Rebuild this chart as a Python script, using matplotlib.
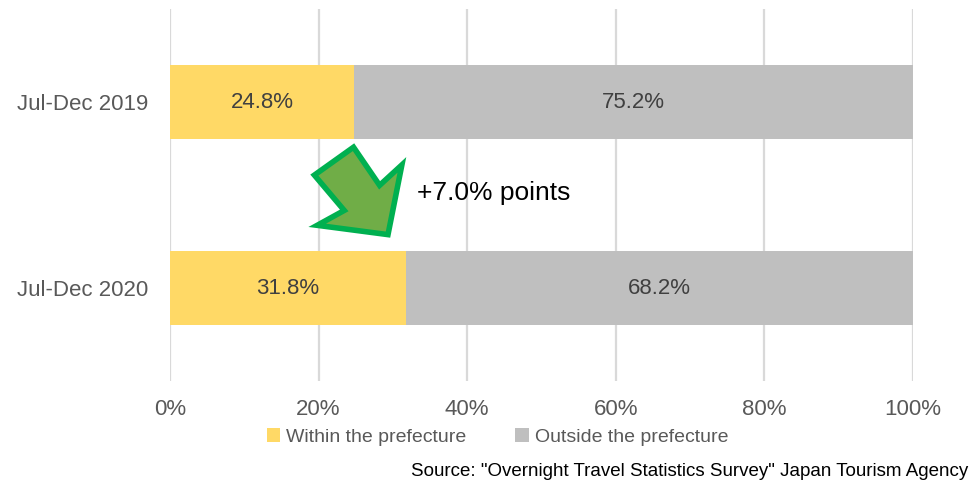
import matplotlib
matplotlib.use("Agg")
import matplotlib.pyplot as plt
from matplotlib.patches import Polygon

plt.rcParams['font.family'] = ['Liberation Sans', 'DejaVu Sans']

categories = ["Jul-Dec 2019", "Jul-Dec 2020"]
within = [24.8, 31.8]
outside = [75.2, 68.2]
series_names = ["Within the prefecture", "Outside the prefecture"]
xticks = [0, 20, 40, 60, 80, 100]
xtick_labels = ["0%", "20%", "40%", "60%", "80%", "100%"]
annotation = "+7.0% points"
source = 'Source: "Overnight Travel Statistics Survey" Japan Tourism Agency'

# arrow outline (annotation shape) in data coords
arrow_x = [19.43, 24.70, 28.21, 31.21, 29.34, 19.81, 23.45]
arrow_y = [0.393, 0.243, 0.448, 0.338, 0.713, 0.663, 0.583]

c_within = "#ffd966"
c_outside = "#bfbfbf"

fig = plt.figure(figsize=(9.73, 4.87), dpi=100)
ax = fig.add_axes([170/973, 1-381/487, 743/973, 372/487])

y = list(range(len(categories)))
h = 0.4
b1 = ax.barh(y, within, height=h, color=c_within, label=series_names[0], zorder=2)
b2 = ax.barh(y, outside, left=within, height=h, color=c_outside, label=series_names[1], zorder=2)

for rect, v in zip(b1, within):
    ax.text(rect.get_x() + rect.get_width()/2, rect.get_y() + rect.get_height()/2,
            f"{v:.1f}%", ha="center", va="center", fontsize=16, color="#404040", zorder=3)
for rect, v in zip(b2, outside):
    ax.text(rect.get_x() + rect.get_width()/2, rect.get_y() + rect.get_height()/2,
            f"{v:.1f}%", ha="center", va="center", fontsize=16, color="#404040", zorder=3)

ax.set_xlim(0, 100)
ax.set_ylim(1.5, -0.5)
ax.set_yticks(y)
ax.set_yticklabels(categories, fontsize=16, color="#595959")
ax.set_xticks(xticks)
ax.set_xticklabels(xtick_labels, fontsize=16, color="#595959")
ax.tick_params(axis="y", length=0, pad=16)
ax.tick_params(axis="x", length=0, pad=13)
for s in ax.spines.values():
    s.set_visible(False)
ax.xaxis.grid(True, color="#d9d9d9", linewidth=1.6, zorder=0)
ax.set_axisbelow(True)

poly = Polygon(list(zip(arrow_x, arrow_y)), closed=True, facecolor="#70ad47",
               edgecolor="#00b050", linewidth=4.0, joinstyle="miter", zorder=4)
ax.add_patch(poly)
ax.text(33.2, 0.49, annotation, fontsize=19, color="black", ha="left", va="center", zorder=4)

fig.legend(handles=[b1, b2], labels=series_names, loc="center",
           bbox_to_anchor=(497.5/973, 1-437/487), ncol=2, frameon=False,
           fontsize=14, labelcolor="#595959", handlelength=0.7, handleheight=0.7,
           handletextpad=0.3, columnspacing=2.5)

fig.text(968/973, 1-472/487, source, ha="right", va="center", fontsize=13.5, color="black")

fig.savefig("out.png", dpi=100)
